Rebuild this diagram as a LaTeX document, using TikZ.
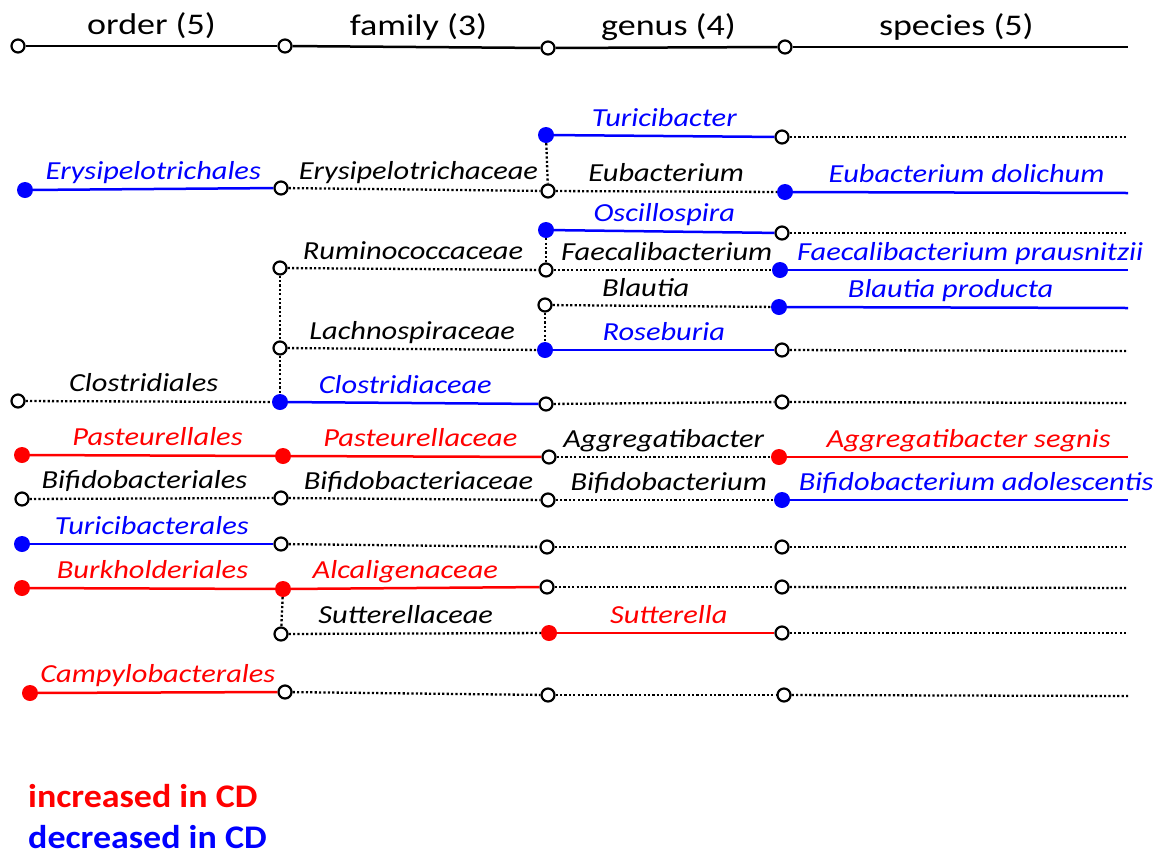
\documentclass[tikz,border=0pt]{standalone}
\usepackage{fontspec}
\setmainfont{Carlito}
\newfontfamily\hdfont[FakeStretch=1.2]{Carlito}
\newfontfamily\labfont[FakeStretch=1.17]{Carlito}
\newfontfamily\legfont[FakeStretch=1.09]{Carlito}
\begin{document}
\begin{tikzpicture}[x=1pt,y=-1pt,
  openc/.style={circle,draw=black,fill=white,line width=2.2pt,minimum size=13pt,inner sep=0pt},
  fillb/.style={circle,fill=blue,minimum size=16pt,inner sep=0pt},
  fillr/.style={circle,fill=red,minimum size=16pt,inner sep=0pt},
  solb/.style={blue,line width=2.5pt},
  solr/.style={red,line width=2.5pt},
  dotk/.style={black,line width=2.3pt,dash pattern=on 2.2pt off 2.2pt},
  hline/.style={black,line width=2.5pt},
  hlab/.style={font=\hdfont\fontsize{30}{32}\selectfont,anchor=base,yshift=12pt,inner sep=0pt},
  lab/.style={font=\labfont\fontsize{26}{28}\selectfont\itshape,anchor=base,yshift=10pt,inner sep=0pt},
  leg/.style={font=\legfont\fontsize{33}{36}\selectfont\bfseries,anchor=base west,inner sep=0pt}
]
\path[use as bounding box] (0,0) rectangle (1156,855);

% header
\node[openc] (h1) at (18,46) {};
\node[openc] (h2) at (285,46) {};
\node[openc] (h3) at (548,48) {};
\node[openc] (h4) at (785,47) {};
\coordinate (he) at (1128,47);
\draw[hline] (h1) -- node[hlab,midway]{order (5)} (h2);
\draw[hline] (h2) -- node[hlab,midway,xshift=2pt]{family (3)} (h3);
\draw[hline] (h3) -- node[hlab,midway,xshift=2pt]{genus (4)} (h4);
\draw[hline] (h4) -- node[hlab,midway,xshift=-4pt]{species (5)} (he);

% nodes
\node[fillb] (gA) at (546,135) {};
\node[openc] (sA) at (782,137) {};
\coordinate (eA) at (1128,137);

\node[fillb] (oB) at (25,190) {};
\node[openc] (fB) at (281,188) {};
\node[openc] (gB) at (548,191) {};
\node[fillb] (sB) at (785,192) {};
\coordinate (eB) at (1128,193);

\node[fillb] (gC) at (546,230) {};
\node[openc] (sC) at (782,233) {};
\coordinate (eC) at (1128,233);

\node[openc] (fD) at (280,268) {};
\node[openc] (gD) at (546,270) {};
\node[fillb] (sD) at (780,270) {};
\coordinate (eD) at (1128,270);

\node[openc] (gE) at (545,305) {};
\node[fillb] (sE) at (779,307) {};
\coordinate (eE) at (1128,308);

\node[openc] (fF) at (280,348) {};
\node[fillb] (gF) at (545,350) {};
\node[openc] (sF) at (782,350) {};
\coordinate (eF) at (1128,351);

\node[openc] (oG) at (18,401) {};
\node[fillb] (fG) at (280,402) {};
\node[openc] (gG) at (546,404) {};
\node[openc] (sG) at (782,402) {};
\coordinate (eG) at (1128,403);

\node[fillr] (oH) at (22,455) {};
\node[fillr] (fH) at (283,456) {};
\node[openc] (gH) at (549,457) {};
\node[fillr] (sH) at (779,457) {};
\coordinate (eH) at (1128,457);

\node[openc] (oI) at (22,499) {};
\node[openc] (fI) at (281,498) {};
\node[openc] (gI) at (548,500) {};
\node[fillb] (sI) at (782,500) {};
\coordinate (eI) at (1128,500);

\node[fillb] (oJ) at (22,544) {};
\node[openc] (fJ) at (281,544) {};
\node[openc] (gJ) at (547,547) {};
\node[openc] (sJ) at (782,547) {};
\coordinate (eJ) at (1128,547);

\node[fillr] (oK) at (22,588) {};
\node[fillr] (fK) at (283,589) {};
\node[openc] (gK) at (547,587) {};
\node[openc] (sK) at (782,587) {};
\coordinate (eK) at (1128,588);

\node[openc] (fL) at (281,634) {};
\node[fillr] (gL) at (549,633) {};
\node[openc] (sL) at (782,633) {};
\coordinate (eL) at (1128,633);

\node[fillr] (oM) at (30,693) {};
\node[openc] (fM) at (285,692) {};
\node[openc] (gM) at (548,695) {};
\node[openc] (sM) at (784,695) {};
\coordinate (eM) at (1128,696);

% vertical dotted links
\draw[dotk] (gA) -- (gB);
\draw[dotk] (gC) -- (gD);
\draw[dotk] (gE) -- (gF);
\draw[dotk] (fD) -- (fF);
\draw[dotk] (fF) -- (fG);
\draw[dotk] (fK) -- (fL);

% row A
\draw[solb] (gA) -- node[lab,midway]{Turicibacter} (sA);
\draw[dotk] (sA) -- (eA);
% row B
\draw[solb] (oB) -- node[lab,midway]{Erysipelotrichales} (fB);
\draw[dotk] (fB) -- node[lab,midway,xshift=4pt]{Erysipelotrichaceae} (gB);
\draw[dotk] (gB) -- node[lab,midway]{Eubacterium} (sB);
\draw[solb] (sB) -- node[lab,midway,xshift=6pt]{Eubacterium dolichum} (eB);
% row C
\draw[solb] (gC) -- node[lab,midway]{Oscillospira} (sC);
\draw[dotk] (sC) -- (eC);
% row D
\draw[dotk] (fD) -- node[lab,midway]{Ruminococcaceae} (gD);
\draw[dotk] (gD) -- node[lab,midway,xshift=4pt]{Faecalibacterium} (sD);
\draw[solb] (sD) -- node[lab,midway,xshift=12pt]{Faecalibacterium prausnitzii} (eD);
% row E
\draw[dotk] (gE) -- node[lab,midway,xshift=-16pt]{Blautia} (sE);
\draw[solb] (sE) -- node[lab,midway,xshift=-7pt]{Blautia producta} (eE);
% row F
\draw[dotk] (fF) -- node[lab,midway]{Lachnospiraceae} (gF);
\draw[solb] (gF) -- node[lab,midway]{Roseburia} (sF);
\draw[dotk] (sF) -- (eF);
% row G
\draw[dotk] (oG) -- node[lab,midway,xshift=-5pt]{Clostridiales} (fG);
\draw[solb] (fG) -- node[lab,midway,xshift=-8pt]{Clostridiaceae} (gG);
\draw[dotk] (gG) -- (sG);
\draw[dotk] (sG) -- (eG);
% row H
\draw[solr] (oH) -- node[lab,midway,xshift=5pt]{Pasteurellales} (fH);
\draw[solr] (fH) -- node[lab,midway,xshift=4pt]{Pasteurellaceae} (gH);
\draw[dotk] (gH) -- node[lab,midway]{Aggregatibacter} (sH);
\draw[solr] (sH) -- node[lab,midway,xshift=11pt]{Aggregatibacter segnis} (eH);
% row I
\draw[dotk] (oI) -- node[lab,midway,xshift=-7pt]{Bifidobacteriales} (fI);
\draw[dotk] (fI) -- node[lab,midway,xshift=4pt]{Bifidobacteriaceae} (gI);
\draw[dotk] (gI) -- node[lab,midway,xshift=4pt]{Bifidobacterium} (sI);
\draw[solb] (sI) -- node[lab,midway,xshift=17pt]{Bifidobacterium adolescentis} (eI);
% row J
\draw[solb] (oJ) -- node[lab,midway]{Turicibacterales} (fJ);
\draw[dotk] (fJ) -- (gJ);
\draw[dotk] (gJ) -- (sJ);
\draw[dotk] (sJ) -- (eJ);
% row K
\draw[solr] (oK) -- node[lab,midway]{Burkholderiales} (fK);
\draw[solr] (fK) -- node[lab,midway,xshift=-10pt]{Alcaligenaceae} (gK);
\draw[dotk] (gK) -- (sK);
\draw[dotk] (sK) -- (eK);
% row L
\draw[dotk] (fL) -- node[lab,midway,xshift=-9pt]{Sutterellaceae} (gL);
\draw[solr] (gL) -- node[lab,midway,xshift=3pt]{Sutterella} (sL);
\draw[dotk] (sL) -- (eL);
% row M
\draw[solr] (oM) -- node[lab,midway]{Campylobacterales} (fM);
\draw[dotk] (fM) -- (gM);
\draw[dotk] (gM) -- (sM);
\draw[dotk] (sM) -- (eM);

% legend
\node[leg,red] (inc) at (28,807) {increased in CD};
\node[leg,blue] (dec) at (28,848) {decreased in CD};
\end{tikzpicture}
\end{document}
